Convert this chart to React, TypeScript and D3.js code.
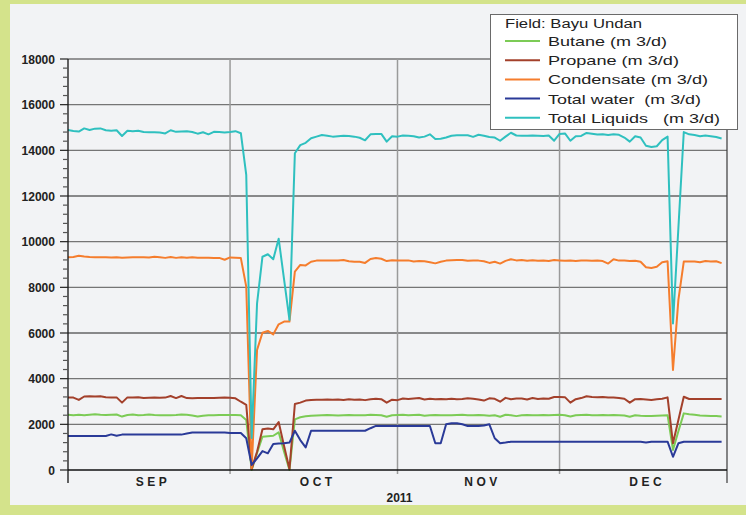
import React, { useEffect, useRef } from 'react';
import * as d3 from 'd3';

const startDate = new Date(2011, 8, 1);
const endDate = new Date(2012, 0, 1);

const seriesNames = ['Butane (m 3/d)', 'Propane (m 3/d)', 'Condensate (m 3/d)', 'Total water  (m 3/d)', 'Total Liquids   (m 3/d)'];
const seriesColors = ['#7ccb56', '#a3402b', '#f57d2d', '#2a3a98', '#2fc0bf'];
const legendTitle = 'Field: Bayu Undan';
const monthLabels = ['SEP', 'OCT', 'NOV', 'DEC'];
const yearLabel = '2011';

// daily values, 1 Sep .. 31 Dec 2011
const totalLiquids = [
  14890, 14850, 14820, 14960, 14890, 14950, 14960, 14880, 14860, 14880, 14630, 14860, 14840, 14860, 14800,
  14790, 14790, 14780, 14740, 14880, 14810, 14830, 14840, 14800, 14730, 14790, 14700, 14810, 14800, 14780,
  14800, 14840, 14750, 12920, 1400, 7300, 9340, 9450, 9230, 10130, 8350, 6570, 13870, 14230, 14330, 14530,
  14600, 14670, 14640, 14600, 14620, 14640, 14630, 14600, 14550, 14440, 14700, 14710, 14720, 14380, 14620,
  14600, 14650, 14640, 14620, 14560, 14600, 14700, 14500, 14510, 14560, 14640, 14660, 14660, 14660, 14590,
  14680, 14640, 14580, 14560, 14420, 14600, 14770, 14650, 14640, 14640, 14650, 14640, 14630, 14650, 14420,
  14720, 14740, 14420, 14620, 14630, 14760, 14730, 14690, 14700, 14670, 14700, 14680, 14560, 14380, 14620,
  14560, 14200, 14150, 14180, 14450, 14600, 6420, 10600, 14800, 14700, 14670, 14620, 14650, 14620, 14580, 14520,
];

const condensate = [
  9320, 9330, 9380, 9350, 9330, 9320, 9320, 9320, 9310, 9320, 9300, 9310, 9320, 9320, 9320,
  9310, 9340, 9320, 9290, 9330, 9290, 9320, 9300, 9320, 9300, 9300, 9300, 9290, 9290, 9210,
  9310, 9300, 9280, 8030, 50, 5260, 6010, 6090, 5940, 6380, 6500, 6500, 8690, 8980, 8960, 9120,
  9170, 9170, 9170, 9170, 9180, 9200, 9140, 9120, 9120, 9070, 9240, 9280, 9250, 9150, 9190,
  9180, 9170, 9180, 9130, 9150, 9140, 9100, 9050, 9120, 9170, 9190, 9200, 9200, 9160, 9180,
  9170, 9140, 9070, 9120, 9040, 9160, 9230, 9180, 9200, 9160, 9190, 9160, 9180, 9150, 9200,
  9180, 9160, 9170, 9150, 9170, 9170, 9160, 9170, 9150, 9040, 9230, 9170, 9170, 9150, 9160,
  9120, 8880, 8850, 8900, 9100, 9140, 4380, 7450, 9130, 9130, 9130, 9100, 9150, 9130, 9140, 9060,
];

const propane = [
  3180, 3170, 3070, 3220, 3230, 3220, 3230, 3190, 3170, 3180, 2950, 3180, 3180, 3190, 3150,
  3160, 3170, 3160, 3170, 3240, 3150, 3240, 3150, 3140, 3150, 3150, 3150, 3150, 3160, 3170,
  3160, 3140, 2990, 2850, 40, 800, 1780, 1820, 1780, 2100, 1050, 40, 2890, 2950, 3040, 3070,
  3080, 3080, 3090, 3080, 3090, 3070, 3100, 3080, 3090, 3060, 3100, 3120, 3100, 2950, 3080,
  3060, 3130, 3110, 3130, 3150, 3090, 3120, 3100, 3110, 3100, 3120, 3100, 3110, 3140, 3120,
  3090, 3040, 3140, 3120, 2990, 3160, 3100, 3130, 3130, 3090, 3150, 3110, 3130, 3120, 3200,
  3200, 3190, 2950, 3100, 3150, 3230, 3200, 3190, 3200, 3180, 3170, 3150, 3120, 2950, 3100,
  3110, 3090, 3070, 3100, 3120, 3180, 1170, 2190, 3210, 3110, 3110, 3110, 3110, 3110, 3110, 3110,
];

const butane = [
  2420, 2400, 2420, 2400, 2420, 2440, 2420, 2410, 2420, 2430, 2340, 2410, 2430, 2400, 2410,
  2430, 2410, 2400, 2400, 2400, 2410, 2430, 2420, 2390, 2340, 2380, 2400, 2400, 2410, 2410,
  2410, 2410, 2400, 2190, 0, 750, 1460, 1480, 1500, 1650, 800, 0, 2220, 2310, 2350, 2380,
  2390, 2400, 2410, 2400, 2390, 2400, 2410, 2400, 2400, 2400, 2420, 2410, 2400, 2330, 2400,
  2410, 2420, 2400, 2410, 2420, 2380, 2400, 2410, 2400, 2400, 2400, 2410, 2420, 2400, 2400,
  2410, 2400, 2380, 2400, 2330, 2420, 2400, 2360, 2400, 2410, 2400, 2400, 2410, 2400, 2410,
  2420, 2400, 2340, 2400, 2410, 2420, 2400, 2400, 2410, 2400, 2410, 2400, 2390, 2330, 2400,
  2380, 2370, 2360, 2380, 2390, 2400, 880, 1700, 2480, 2440, 2420, 2390, 2380, 2370, 2360, 2340,
];

const totalWater = [
  1490, 1490, 1490, 1490, 1490, 1490, 1490, 1490, 1560, 1500, 1550, 1550, 1550, 1550, 1550,
  1550, 1550, 1550, 1550, 1550, 1550, 1550, 1600, 1640, 1640, 1640, 1640, 1640, 1640, 1640,
  1620, 1620, 1620, 1390, 220, 510, 830, 730, 1140, 1160, 1170, 1200, 1720, 1310, 990, 1720,
  1720, 1720, 1720, 1720, 1720, 1720, 1720, 1720, 1720, 1720, 1830, 1930, 1930, 1930, 1930,
  1930, 1930, 1930, 1930, 1930, 1930, 1930, 1170, 1170, 2000, 2050, 2050, 2000, 1930, 1930,
  1930, 1950, 2000, 1390, 1170, 1200, 1240, 1240, 1240, 1240, 1240, 1240, 1240, 1240, 1240,
  1240, 1240, 1240, 1240, 1240, 1240, 1240, 1240, 1240, 1240, 1240, 1240, 1240, 1240, 1240,
  1240, 1200, 1240, 1240, 1240, 1240, 580, 1170, 1240, 1240, 1240, 1240, 1240, 1240, 1240, 1240,
];

const seriesValues = [butane, propane, condensate, totalWater, totalLiquids];
const legendTextWidths = [119, 131, 160, 153, 172];

const FONT = '"Liberation Sans", Arial, sans-serif';

export default function App() {
  const svgRef = useRef<SVGSVGElement>(null);

  useEffect(() => {
    if (!svgRef.current) return;
    const width = 746;
    const height = 515;
    const plot = { left: 68, right: 727, top: 59, bottom: 470 };

    const svg = d3.select(svgRef.current);
    svg.selectAll('*').remove();

    // background + green frame
    svg.append('rect').attr('width', width).attr('height', height).attr('fill', '#f2f3f5');
    svg.append('rect').attr('x', 0).attr('y', 0).attr('width', 10).attr('height', height).attr('fill', '#d4e38b');
    svg.append('rect').attr('x', 0).attr('y', 505).attr('width', width).attr('height', 10).attr('fill', '#d4e38b');
    svg.append('rect').attr('x', 0).attr('y', 0).attr('width', width).attr('height', 4).attr('fill', '#d4e38b');

    const xScale = d3.scaleTime().domain([startDate, endDate]).range([plot.left, plot.right]);
    const yScale = d3.scaleLinear().domain([0, 18000]).range([plot.bottom, plot.top]);

    const majors = d3.range(0, 18001, 2000);
    const minors = d3.range(0, 18001, 400).filter(v => v % 2000 !== 0);

    // horizontal grid
    svg.append('g')
      .selectAll('line')
      .data(majors.filter(v => v > 0))
      .enter()
      .append('line')
      .attr('x1', plot.left)
      .attr('x2', plot.right)
      .attr('y1', d => yScale(d))
      .attr('y2', d => yScale(d))
      .attr('stroke', d => (d === 6000 || d === 12000 ? '#1e1e1e' : '#757575'))
      .attr('stroke-width', d => (d === 6000 || d === 12000 ? 1 : 1.4));

    // month dividers
    const monthStarts = [new Date(2011, 9, 1), new Date(2011, 10, 1), new Date(2011, 11, 1)];
    svg.append('g')
      .selectAll('line')
      .data(monthStarts)
      .enter()
      .append('line')
      .attr('x1', d => xScale(d))
      .attr('x2', d => xScale(d))
      .attr('y1', plot.top)
      .attr('y2', plot.bottom + 4)
      .attr('stroke', '#9a9a9a')
      .attr('stroke-width', 1.5);

    // right edge
    svg.append('line')
      .attr('x1', xScale(endDate)).attr('x2', xScale(endDate))
      .attr('y1', plot.top).attr('y2', plot.bottom + 13)
      .attr('stroke', '#3a3a3a').attr('stroke-width', 1.2);

    // series
    const dates = totalLiquids.map((_, i) => d3.timeDay.offset(startDate, i));
    const line = d3.line<number>()
      .x((_, i) => xScale(dates[i]))
      .y(d => yScale(d));

    svg.append('g')
      .selectAll('path')
      .data(seriesValues)
      .enter()
      .append('path')
      .attr('d', d => line(d))
      .attr('fill', 'none')
      .attr('stroke', (_, i) => seriesColors[i])
      .attr('stroke-width', 2)
      .attr('stroke-linejoin', 'round');

    // y axis
    const yAxis = svg.append('g');
    yAxis.append('line')
      .attr('x1', plot.left).attr('x2', plot.left)
      .attr('y1', plot.top).attr('y2', plot.bottom + 13)
      .attr('stroke', '#111').attr('stroke-width', 1.3);
    yAxis.selectAll('.major')
      .data(majors)
      .enter()
      .append('line')
      .attr('x1', plot.left - 8).attr('x2', plot.left)
      .attr('y1', d => yScale(d)).attr('y2', d => yScale(d))
      .attr('stroke', '#222').attr('stroke-width', 1.2);
    yAxis.selectAll('.minor')
      .data(minors)
      .enter()
      .append('line')
      .attr('x1', plot.left - 5).attr('x2', plot.left)
      .attr('y1', d => yScale(d)).attr('y2', d => yScale(d))
      .attr('stroke', '#555').attr('stroke-width', 1.2);
    yAxis.selectAll('text')
      .data(majors)
      .enter()
      .append('text')
      .attr('x', 55)
      .attr('y', d => yScale(d) + 4.5)
      .attr('text-anchor', 'end')
      .attr('font-family', FONT)
      .attr('font-size', 12)
      .attr('font-weight', 'bold')
      .attr('fill', '#222')
      .attr('textLength', d => String(d).length * 6.7)
      .attr('lengthAdjust', 'spacingAndGlyphs')
      .text(d => String(d));

    // x axis
    svg.append('line')
      .attr('x1', plot.left).attr('x2', plot.right)
      .attr('y1', plot.bottom).attr('y2', plot.bottom)
      .attr('stroke', '#111').attr('stroke-width', 1.5);

    const monthMids = [0, 1, 2, 3].map(i => {
      const a = new Date(2011, 8 + i, 1);
      const b = new Date(2011, 9 + i, 1);
      return (xScale(a) + xScale(b)) / 2;
    });
    svg.append('g')
      .selectAll('text')
      .data(monthLabels)
      .enter()
      .append('text')
      .attr('x', (_, i) => monthMids[i] + 4)
      .attr('y', 486)
      .attr('text-anchor', 'middle')
      .attr('font-family', FONT)
      .attr('font-size', 12)
      .attr('font-weight', 'bold')
      .attr('letter-spacing', 3.5)
      .attr('fill', '#222')
      .text(d => d);

    svg.append('text')
      .attr('x', (plot.left + plot.right) / 2 + 2)
      .attr('y', 502)
      .attr('text-anchor', 'middle')
      .attr('font-family', FONT)
      .attr('font-size', 12)
      .attr('font-weight', 'bold')
      .attr('fill', '#222')
      .text(yearLabel);

    // legend
    const legend = svg.append('g');
    legend.append('rect')
      .attr('x', 490.5).attr('y', 14.5)
      .attr('width', 247).attr('height', 115)
      .attr('fill', '#ffffff').attr('stroke', '#6a6a6a').attr('stroke-width', 1);
    legend.append('text')
      .attr('x', 505).attr('y', 27.5)
      .attr('font-family', FONT).attr('font-size', 12).attr('fill', '#222')
      .attr('textLength', 137).attr('lengthAdjust', 'spacingAndGlyphs')
      .text(legendTitle);
    const rows = legend.selectAll('.row')
      .data(seriesNames)
      .enter()
      .append('g')
      .attr('transform', (_, i) => `translate(0,${41 + i * 19.2})`);
    rows.append('line')
      .attr('x1', 505).attr('x2', 540)
      .attr('y1', 0).attr('y2', 0)
      .attr('stroke', (_, i) => seriesColors[i]).attr('stroke-width', 2);
    rows.append('text')
      .attr('x', 548).attr('y', 5)
      .attr('font-family', FONT).attr('font-size', 13).attr('fill', '#222')
      .attr('textLength', (_, i) => legendTextWidths[i]).attr('lengthAdjust', 'spacingAndGlyphs')
      .style('white-space', 'pre')
      .text(d => d);
  }, []);

  return (
    <svg
      ref={svgRef}
      width={746}
      height={515}
      style={{ position: 'absolute', left: 0, top: 0, display: 'block' }}
    />
  );
}
